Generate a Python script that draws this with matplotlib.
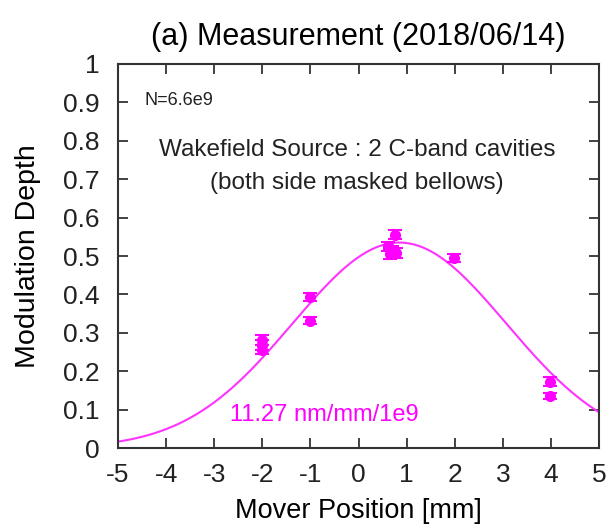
import numpy as np
import matplotlib.pyplot as plt

plt.rcParams['font.family'] = ['Liberation Sans', 'DejaVu Sans']
plt.rcParams['axes.unicode_minus'] = False

# measured points (mover position [mm], modulation depth, error)
pos = [-2.0, -2.0, -2.0, -1.0, -1.0, 0.62, 0.65, 0.70, 0.75, 0.78, 1.98, 3.98, 3.98]
depth = [0.281, 0.268, 0.256, 0.394, 0.332, 0.525, 0.505, 0.515, 0.555, 0.508, 0.494, 0.173, 0.136]
err = [0.013, 0.012, 0.012, 0.010, 0.010, 0.012, 0.012, 0.012, 0.012, 0.012, 0.010, 0.012, 0.008]

# gaussian fit parameters
amp, mu, sigma = 0.535, 0.85, 2.22

fig = plt.figure(figsize=(6.09, 5.28), dpi=100)
ax = fig.add_axes([0.1938, 0.1515, 0.7898, 0.7273])

xs = np.linspace(-5, 5, 400)
ax.plot(xs, amp * np.exp(-(xs - mu) ** 2 / (2 * sigma ** 2)), color='#ff33ff', lw=1.5)
ax.errorbar(pos, depth, yerr=err, fmt='o', color='#ff00ff', ms=7, capsize=5,
            elinewidth=1.5, capthick=1.5)

ax.set_xlim(-5, 5)
ax.set_ylim(0, 1)
ax.set_xticks(np.arange(-5, 6, 1))
ax.set_yticks(np.arange(0, 1.01, 0.1))
ax.set_xticklabels(['-5', '-4', '-3', '-2', '-1', '0', '1', '2', '3', '4', '5'])
ax.set_yticklabels(['0', '0.1', '0.2', '0.3', '0.4', '0.5', '0.6', '0.7', '0.8', '0.9', '1'])
ax.tick_params(direction='in', length=7, width=1.2, top=True, right=True,
               labelsize=19, colors='#222222')
ax.tick_params(axis='y', pad=13)
ax.tick_params(axis='x', pad=11)
for s in ax.spines.values():
    s.set_linewidth(1.5)
    s.set_color('#333333')

ax.set_xlabel('Mover Position [mm]', fontsize=19.5, labelpad=8)
ax.set_ylabel('Modulation Depth', fontsize=20.5, labelpad=16)
ax.set_title('(a) Measurement (2018/06/14)', fontsize=22, pad=14)

ax.text(-4.45, 0.905, 'N=6.6e9', fontsize=13, va='center', ha='left', color='#222222')
ax.text(-0.03, 0.776, 'Wakefield Source : 2 C-band cavities', fontsize=17.5, ha='center',
        va='center', color='#222222')
ax.text(-0.03, 0.69, '(both side masked bellows)', fontsize=17.5, ha='center',
        va='center', color='#222222')
ax.text(-0.72, 0.086, '11.27 nm/mm/1e9', fontsize=17, ha='center', va='center',
        color='#ff00ff')

fig.savefig('out.png', dpi=100)
